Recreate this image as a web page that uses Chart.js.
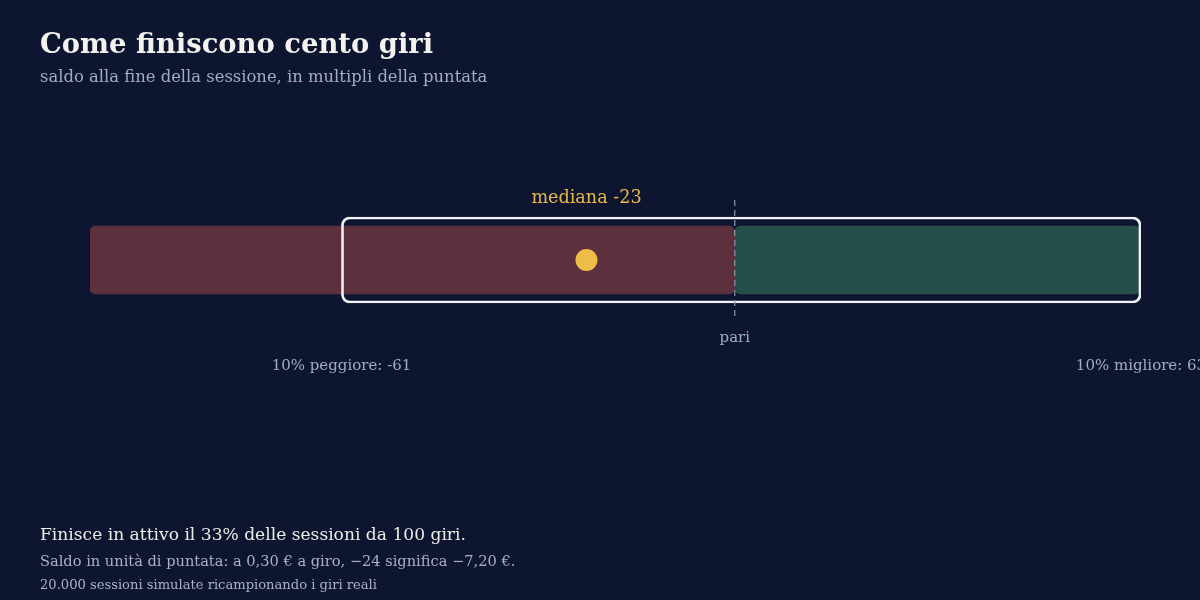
<!DOCTYPE html>
<html lang="it">
<head>
<meta charset="utf-8">
<title>Come finiscono cento giri</title>
<script src="https://cdn.jsdelivr.net/npm/chart.js@4.4.1/dist/chart.umd.min.js"></script>
<style>
  html, body { margin: 0; padding: 0; background: #0e1531; }
  #wrap { position: relative; width: 1200px; height: 600px; overflow: hidden;
          font-family: Georgia, "DejaVu Serif", serif; }
  #wrap canvas { position: absolute; left: 0; top: 0; }
  .t { position: absolute; left: 40px; margin: 0; white-space: nowrap; line-height: 1; }
  #titolo { top: 30px; font-size: 27.4px; font-weight: bold; color: #f4f2ec; }
  #sottotitolo { top: 69px; font-size: 16.4px; color: #a3abc7; }
  #nota1 { top: 526px; font-size: 17.1px; color: #eeece6; }
  #nota2 { top: 554px; font-size: 14.6px; color: #a9b0c8; }
  #nota3 { top: 578px; font-size: 13.1px; color: #a9b0c8; }
</style>
</head>
<body>
<div id="wrap">
  <canvas id="chart-sessioni" width="1200" height="600"></canvas>
  <h1 class="t" id="titolo">Come finiscono cento giri</h1>
  <p class="t" id="sottotitolo">saldo alla fine della sessione, in multipli della puntata</p>
  <p class="t" id="nota1">Finisce in attivo il 33% delle sessioni da 100 giri.</p>
  <p class="t" id="nota2">Saldo in unità di puntata: a 0,30 € a giro, −24 significa −7,20 €.</p>
  <p class="t" id="nota3">20.000 sessioni simulate ricampionando i giri reali</p>
</div>
<script>
// valori (unità di puntata)
var categorie = ['100 giri'];
var perdita = [[-100, 0]];
var guadagno = [[0, 63]];
var fascia = [[-61, 63]];      // dal 10% peggiore al 10% migliore
var mediana = [-23];
var pareggio = 0;
var scala = [-100, 63];

var serif = 'Georgia, "DejaVu Serif", serif';

var annotazioni = {
  id: 'annotazioni',
  afterDatasetsDraw: function (chart) {
    var ctx = chart.ctx;
    var x = chart.scales.x;
    var y = chart.scales.y;
    var cy = y.getPixelForValue(0);
    var x0 = x.getPixelForValue(pareggio);

    ctx.save();
    ctx.strokeStyle = '#8e96b2';
    ctx.lineWidth = 1.2;
    ctx.setLineDash([6, 4]);
    ctx.beginPath();
    ctx.moveTo(x0, cy - 60);
    ctx.lineTo(x0, cy + 56);
    ctx.stroke();
    ctx.setLineDash([]);

    ctx.textAlign = 'center';
    ctx.textBaseline = 'middle';

    ctx.font = '15px ' + serif;
    ctx.fillStyle = '#a3abc6';
    ctx.fillText('pari', x0, cy + 78);

    ctx.font = '17.6px ' + serif;
    ctx.fillStyle = '#e9b949';
    ctx.fillText('mediana ' + mediana[0], x.getPixelForValue(mediana[0]), cy - 62);

    ctx.font = '15px ' + serif;
    ctx.fillStyle = '#a3abc6';
    ctx.fillText('10% peggiore: ' + fascia[0][0], x.getPixelForValue(fascia[0][0]), cy + 106);
    ctx.fillText('10% migliore: ' + fascia[0][1], x.getPixelForValue(fascia[0][1]), cy + 106);
    ctx.restore();
  }
};

var ctx = document.getElementById('chart-sessioni');
new Chart(ctx, {
  type: 'bar',
  data: {
    labels: categorie,
    datasets: [{
      type: 'line',
      label: 'mediana',
      data: mediana.map(function (v, i) { return { x: v, y: categorie[i] }; }),
      showLine: false,
      pointRadius: 11,
      pointHoverRadius: 11,
      pointBackgroundColor: '#eebd48',
      pointBorderWidth: 0
    }, {
      label: '10%-90%',
      data: fascia,
      grouped: false,
      backgroundColor: 'rgba(0,0,0,0)',
      borderColor: '#f2f2f5',
      borderWidth: 2,
      borderRadius: 8,
      borderSkipped: false,
      barThickness: 86
    }, {
      label: 'in perdita',
      data: perdita,
      grouped: false,
      backgroundColor: '#5c303d',
      borderRadius: 6,
      borderSkipped: false,
      barThickness: 68
    }, {
      label: 'in attivo',
      data: guadagno,
      grouped: false,
      backgroundColor: '#25504a',
      borderRadius: 6,
      borderSkipped: false,
      barThickness: 68
    }]
  },
  options: {
    indexAxis: 'y',
    responsive: false,
    animation: false,
    layout: { padding: { left: 90, right: 59, top: 200, bottom: 280 } },
    scales: {
      x: { type: 'linear', min: scala[0], max: scala[1], display: false },
      y: { type: 'category', display: false }
    },
    plugins: {
      legend: { display: false },
      tooltip: { enabled: false }
    }
  },
  plugins: [annotazioni]
});
</script>
</body>
</html>
